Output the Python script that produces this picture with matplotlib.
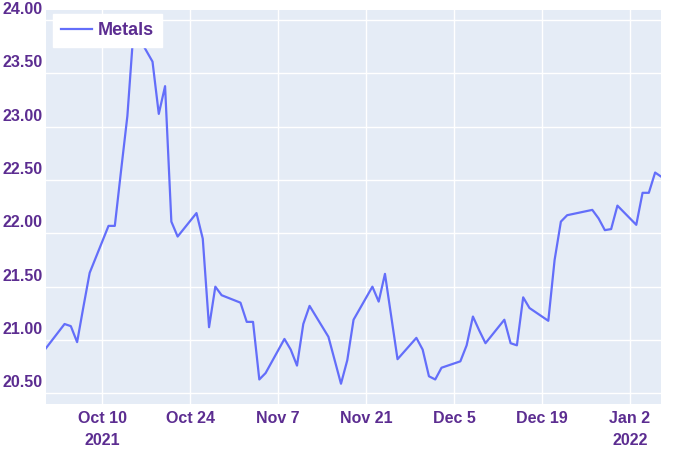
import pandas as pd
import matplotlib
matplotlib.use("Agg")
import matplotlib.pyplot as plt
from matplotlib.transforms import ScaledTranslation

plt.rcParams["font.family"] = ["Liberation Sans", "DejaVu Sans"]

# trading days, Oct 1 2021 - Jan 7 2022 (Thanksgiving and Dec 24 closed)
dates = [
	"2021-10-01",
	"2021-10-04", "2021-10-05", "2021-10-06", "2021-10-07", "2021-10-08",
	"2021-10-11", "2021-10-12", "2021-10-13", "2021-10-14", "2021-10-15",
	"2021-10-18", "2021-10-19", "2021-10-20", "2021-10-21", "2021-10-22",
	"2021-10-25", "2021-10-26", "2021-10-27", "2021-10-28", "2021-10-29",
	"2021-11-01", "2021-11-02", "2021-11-03", "2021-11-04", "2021-11-05",
	"2021-11-08", "2021-11-09", "2021-11-10", "2021-11-11", "2021-11-12",
	"2021-11-15", "2021-11-16", "2021-11-17", "2021-11-18", "2021-11-19",
	"2021-11-22", "2021-11-23", "2021-11-24", "2021-11-26",
	"2021-11-29", "2021-11-30", "2021-12-01", "2021-12-02", "2021-12-03",
	"2021-12-06", "2021-12-07", "2021-12-08", "2021-12-09", "2021-12-10",
	"2021-12-13", "2021-12-14", "2021-12-15", "2021-12-16", "2021-12-17",
	"2021-12-20", "2021-12-21", "2021-12-22", "2021-12-23",
	"2021-12-27", "2021-12-28", "2021-12-29", "2021-12-30", "2021-12-31",
	"2022-01-03", "2022-01-04", "2022-01-05", "2022-01-06", "2022-01-07",
]

metals = [
	20.92,
	21.15, 21.13, 20.98, 21.31, 21.63,
	22.07, 22.07, 22.59, 23.10, 23.92,
	23.61, 23.12, 23.38, 22.11, 21.97,
	22.19, 21.95, 21.12, 21.50, 21.42,
	21.35, 21.17, 21.17, 20.63, 20.69,
	21.01, 20.91, 20.76, 21.15, 21.32,
	21.03, 20.81, 20.59, 20.81, 21.19,
	21.50, 21.36, 21.62, 20.82,
	21.02, 20.91, 20.66, 20.63, 20.74,
	20.80, 20.95, 21.22, 21.09, 20.97,
	21.19, 20.97, 20.95, 21.40, 21.30,
	21.18, 21.75, 22.11, 22.17,
	22.22, 22.14, 22.03, 22.04, 22.26,
	22.08, 22.38, 22.38, 22.57, 22.53,
]

x_tick_dates = ["2021-10-10", "2021-10-24", "2021-11-07", "2021-11-21",
				"2021-12-05", "2021-12-19", "2022-01-02"]
x_tick_labels = ["Oct 10\n2021", "Oct 24", "Nov 7", "Nov 21",
				 "Dec 5", "Dec 19", "Jan 2\n2022"]
y_ticks = [20.5, 21.0, 21.5, 22.0, 22.5, 23.0, 23.5, 24.0]

text_color = "#5c2d91"
font_size = 11.5

x = pd.to_datetime(dates)

fig = plt.figure(figsize=(7, 4.5), dpi=100)
ax = fig.add_axes([45.7 / 700, 46 / 450, 615.7 / 700, 394 / 450])
ax.set_facecolor("#E5ECF6")
for s in ax.spines.values():
	s.set_visible(False)

ax.plot(x, metals, color="#636EFA", linewidth=1.6, label="Metals", zorder=3)

ax.set_xlim(x[0], x[-1])
ax.set_ylim(20.40, 24.094)

ax.set_yticks(y_ticks)
ax.set_yticklabels(["%.2f" % v for v in y_ticks])
ax.set_xticks(pd.to_datetime(x_tick_dates))
ax.set_xticklabels(x_tick_labels)

ax.grid(True, color="white", linewidth=1.0, zorder=0)
ax.set_axisbelow(True)
ax.tick_params(axis="both", length=0, labelsize=font_size, labelcolor=text_color)
ax.tick_params(axis="y", pad=2)
ax.tick_params(axis="x", pad=5)

shift = ScaledTranslation(0, 0.12, fig.dpi_scale_trans)
for lab in ax.get_yticklabels():
	lab.set_fontweight("bold")
	lab.set_transform(lab.get_transform() + shift)
for lab in ax.get_xticklabels():
	lab.set_fontweight("bold")
	lab.set_linespacing(1.6)

leg = ax.legend(loc="upper left", bbox_to_anchor=(0.012, 0.99), borderaxespad=0,
				fancybox=False, framealpha=1, edgecolor="white", handlelength=1.7,
				handletextpad=0.35, borderpad=0.45,
				prop={"size": 13, "weight": "bold"})
for t in leg.get_texts():
	t.set_color(text_color)
leg.set_zorder(5)

fig.savefig("out.png", dpi=100)
